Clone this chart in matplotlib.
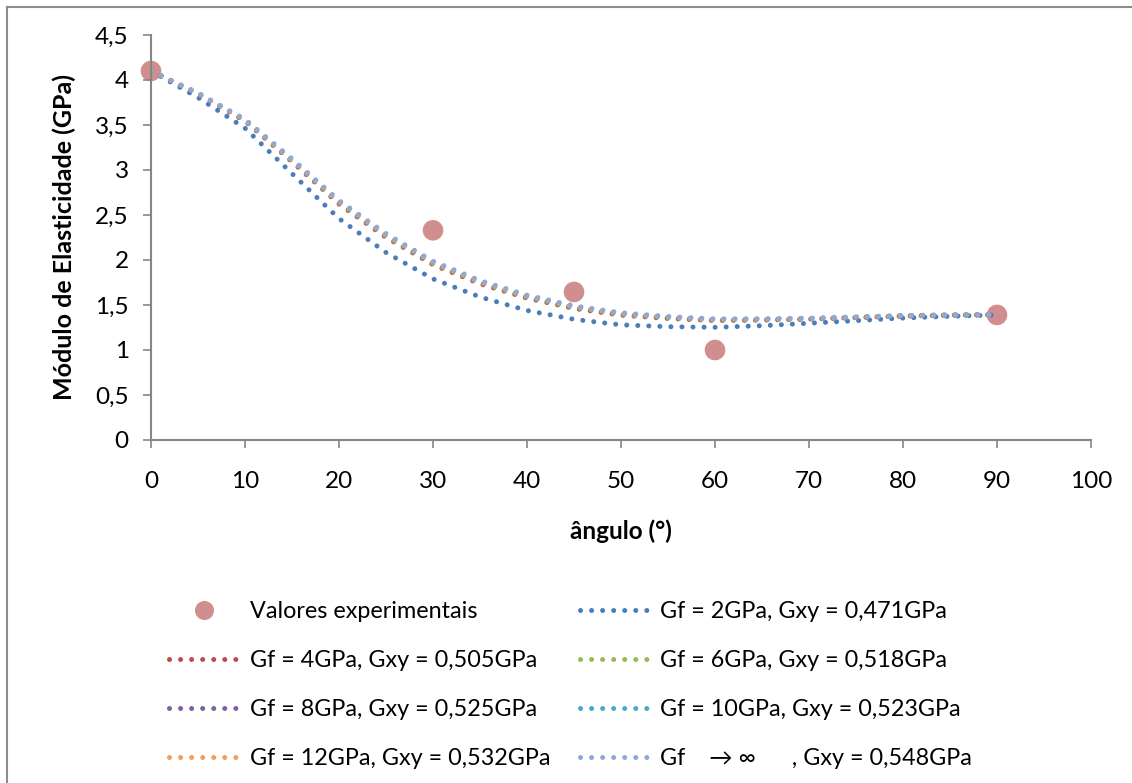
import matplotlib
matplotlib.use("Agg")
import matplotlib.pyplot as plt
from matplotlib.lines import Line2D

plt.rcParams['font.family'] = ['Lato', 'DejaVu Sans']

# ---------------- data ----------------
angles = [0, 5, 10, 15, 20, 25, 30, 35, 40, 45, 50, 55, 60, 65, 70, 75, 80, 85, 90]

gf2 = [4.10, 3.805, 3.465, 2.96, 2.46, 2.083, 1.79, 1.589, 1.439, 1.341, 1.279,
       1.259, 1.252, 1.270, 1.297, 1.326, 1.355, 1.375, 1.390]
gf4 = [4.10, 3.846, 3.543, 3.092, 2.622, 2.251, 1.948, 1.735, 1.576, 1.461, 1.387,
       1.350, 1.327, 1.332, 1.343, 1.360, 1.377, 1.387, 1.392]
gf6 = [4.10, 3.849, 3.549, 3.102, 2.634, 2.264, 1.959, 1.746, 1.586, 1.470, 1.395,
       1.357, 1.333, 1.337, 1.346, 1.362, 1.379, 1.388, 1.392]
gf8 = [4.10, 3.851, 3.553, 3.108, 2.642, 2.272, 1.967, 1.754, 1.593, 1.476, 1.401,
       1.362, 1.337, 1.340, 1.348, 1.364, 1.380, 1.389, 1.392]
gf10 = [4.10, 3.850, 3.552, 3.107, 2.640, 2.270, 1.965, 1.752, 1.591, 1.474, 1.399,
        1.360, 1.336, 1.339, 1.348, 1.363, 1.380, 1.388, 1.392]
gf12 = [4.10, 3.852, 3.556, 3.113, 2.648, 2.278, 1.973, 1.759, 1.598, 1.481, 1.405,
        1.365, 1.339, 1.343, 1.350, 1.365, 1.381, 1.389, 1.392]
gf_inf = [4.10, 3.856, 3.563, 3.125, 2.662, 2.293, 1.987, 1.772, 1.610, 1.491, 1.414,
          1.373, 1.346, 1.348, 1.354, 1.368, 1.383, 1.390, 1.392]

exp_angles = [0, 30, 45, 60, 90]
exp_values = [4.10, 2.33, 1.645, 1.00, 1.39]

labels = ["Valores experimentais",
          "Gf = 2GPa, Gxy = 0,471GPa",
          "Gf = 4GPa, Gxy = 0,505GPa",
          "Gf = 6GPa, Gxy = 0,518GPa",
          "Gf = 8GPa, Gxy = 0,525GPa",
          "Gf = 10GPa, Gxy = 0,523GPa",
          "Gf = 12GPa, Gxy = 0,532GPa",
          "Gf    \u2192 \u221e      , Gxy = 0,548GPa"]

x_ticks = [0, 10, 20, 30, 40, 50, 60, 70, 80, 90, 100]
y_ticks = [0, 0.5, 1, 1.5, 2, 2.5, 3, 3.5, 4, 4.5]
y_tick_labels = ["0", "0,5", "1", "1,5", "2", "2,5", "3", "3,5", "4", "4,5"]

# ---------------- figure ----------------
W, H = 1132, 783
FS = 17.5
LFS = 16.8
fig = plt.figure(figsize=(W / 100, H / 100), dpi=100)
ax = fig.add_axes([151 / W, (H - 440) / H, (1091 - 151) / W, (440 - 35) / H])

colors = ["#4A7EBB", "#BE4B48", "#98B954", "#7D60A0", "#46AAC5", "#F59D56", "#8EA9D6"]
series = [gf2, gf4, gf6, gf8, gf10, gf12, gf_inf]

exp_color = "#D08E8E"
ax.scatter(exp_angles, exp_values, s=220, color=exp_color, zorder=1,
           edgecolors='none', clip_on=False)

dot_style = (0, (0.01, 2.2))
handles = []
for vals, c in zip(series, colors):
    ln, = ax.plot(angles, vals, color=c, lw=3.6, linestyle=dot_style,
                  dash_capstyle='round', zorder=2)
    handles.append(ln)

ax.set_xlim(0, 100)
ax.set_ylim(0, 4.5)
ax.set_xticks(x_ticks)
ax.set_xticklabels([str(t) for t in x_ticks])
ax.set_yticks(y_ticks)
ax.set_yticklabels(y_tick_labels)

for s in ['top', 'right']:
    ax.spines[s].set_visible(False)
for s in ['left', 'bottom']:
    ax.spines[s].set_color('#868686')
    ax.spines[s].set_linewidth(1.5)
ax.tick_params(axis='both', direction='out', length=6, width=1.2, color='#868686',
               labelsize=FS, labelcolor='black')
ax.tick_params(axis='x', pad=16)
ax.tick_params(axis='y', pad=10)

ax.set_xlabel("ângulo (°)", fontsize=FS, fontweight='bold', labelpad=20)
ax.set_ylabel("Módulo de Elasticidade (GPa)", fontsize=18, fontweight='bold', labelpad=14)

# legend (row order: exp,2 / 4,6 / 8,10 / 12,inf)
h_exp_leg = Line2D([], [], linestyle='none', marker='o', markersize=13.7,
                   color=exp_color, markeredgecolor='none')
leg_handles = [h_exp_leg, handles[1], handles[3], handles[5],
               handles[0], handles[2], handles[4], handles[6]]
leg_labels = [labels[0], labels[2], labels[4], labels[6],
              labels[1], labels[3], labels[5], labels[7]]
leg = fig.legend(leg_handles, leg_labels, ncol=2, frameon=False, fontsize=LFS,
                 loc='upper left', bbox_to_anchor=(153 / W, 1 - 585 / H),
                 handlelength=3.0, handletextpad=0.45, columnspacing=1.25,
                 labelspacing=1.2, borderpad=0.2)

# chart border (left and top visible)
fig.add_artist(Line2D([7 / W, 7 / W], [0, 1 - 7 / H], color='#8C8C8C', lw=1.5,
                      transform=fig.transFigure))
fig.add_artist(Line2D([7 / W, 1], [1 - 7 / H, 1 - 7 / H], color='#8C8C8C', lw=1.5,
                      transform=fig.transFigure))

fig.savefig("out.png", dpi=100)
